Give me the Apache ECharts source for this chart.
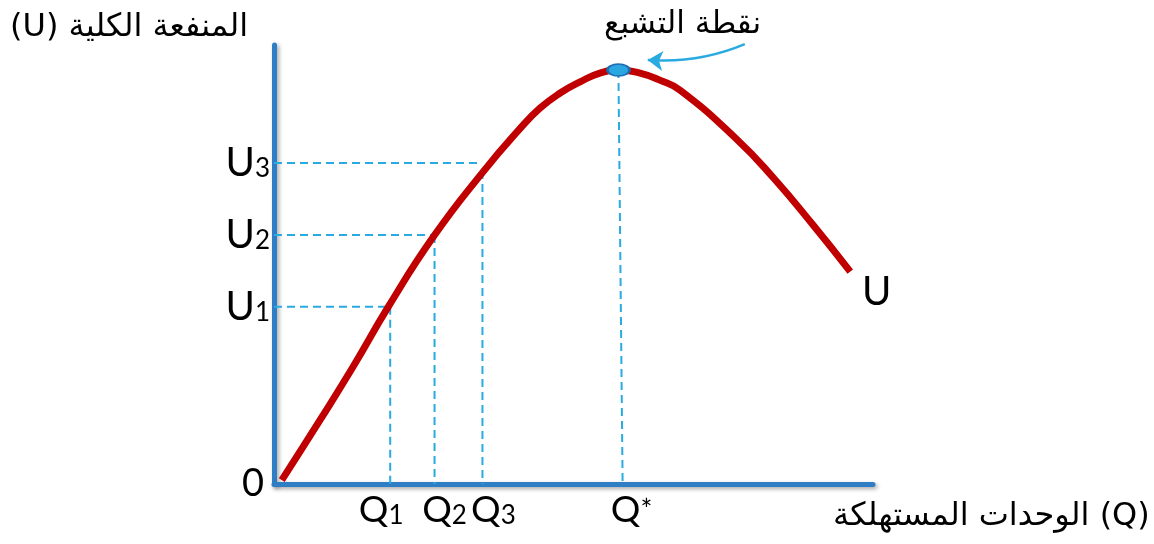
<!DOCTYPE html>
<html>
<head>
<meta charset="utf-8">
<script src="https://cdn.jsdelivr.net/npm/echarts@6/dist/echarts.min.js"></script>
<style>
  html, body { margin: 0; padding: 0; background: #fff; }
</style>
</head>
<body>
<div id="main" style="width:1154px;height:544px;"></div>
<script type="text/javascript">
// منحنى المنفعة الكلية (قيم مقروءة من الرسم، وحدات نسبية 0..100)
var curveQ = [1.3, 7.7, 13.2, 19.1, 26.6, 34.9, 41.1, 44.4, 47.7, 51.1, 54.4, 57.5, 61.1, 64.4, 67.8, 77.2, 83.4, 90.0, 96.2];
var curveU = [0.9, 14.6, 26.7, 40.4, 56.3, 71.1, 81.0, 85.6, 89.0, 91.6, 93.6, 94.3, 93.6, 92.0, 89.7, 78.6, 69.7, 59.0, 48.4];

// مستويات U1..U3 وكمياتها Q1..Q3
var levelNames = ['1', '2', '3'];
var levelQ = [19.4, 26.8, 34.8];
var levelU = [40.4, 56.7, 73.1];
var levelQEnd = [19.4, 26.8, 34.3];

// نقطة التشبع
var satQ = 57.5;
var satU = 94.3;
var satQBottom = 58.2;

// السهم
var arrowFrom = [78.6, 100.2];
var arrowTo = [62.4, 96.6];

var ARABIC = '"DejaVu Sans", "Noto Sans", sans-serif';
var LATIN = 'Lato, "Open Sans", sans-serif';
var dashColor = '#29ABE2';

var myChart = echarts.init(document.getElementById('main'));

var curveData = [];
for (var i = 0; i < curveQ.length; i++) {
    curveData.push([curveQ[i], curveU[i]]);
}

var series = [];
// الخطوط المتقطعة
for (var k = 0; k < levelQ.length; k++) {
    series.push({
        type: 'line',
        data: [[0, levelU[k]], [levelQEnd[k], levelU[k]]],
        symbol: 'none',
        silent: true,
        lineStyle: { color: dashColor, width: 2, type: [8, 5] },
        z: 2
    });
    series.push({
        type: 'line',
        data: [[levelQ[k], levelU[k] - (k == 2 ? 1.8 : 0)], [levelQ[k], 0]],
        symbol: 'none',
        silent: true,
        lineStyle: { color: dashColor, width: 2, type: [8, 5] },
        z: 2
    });
}
series.push({
    type: 'line',
    data: [[satQ, satU], [satQBottom, 0]],
    symbol: 'none',
    silent: true,
    lineStyle: { color: dashColor, width: 2, type: [8, 5] },
    z: 2
});
// المنحنى
series.push({
    type: 'line',
    data: curveData,
    smooth: 0.5,
    symbol: 'none',
    lineStyle: { color: '#C00000', width: 7 },
    z: 3
});
// نقطة التشبع
series.push({
    type: 'scatter',
    data: [[satQ, satU]],
    symbol: 'circle',
    symbolSize: [22, 12],
    itemStyle: { color: '#2AA7E1', borderColor: '#1F6DB5', borderWidth: 2, opacity: 1 },
    z: 5
});
// السهم
series.push({
    type: 'lines',
    coordinateSystem: 'cartesian2d',
    clip: false,
    symbol: ['none', 'arrow'],
    symbolSize: 15,
    lineStyle: { color: dashColor, width: 2.5, curveness: 0.12, opacity: 1 },
    data: [{ coords: [arrowFrom, arrowTo] }],
    z: 5
});

// تسميات Q أسفل المحور
var qValues = levelQ.concat([satQBottom]);
var qTexts = ['{a|Q}{b|1}', '{a|Q}{b|2}', '{a|Q}{b|3}', '{a|Q}{c|*}'];
var qOffsets = [-9, 10, 11, 9];
var qData = [];
for (var m = 0; m < qValues.length; m++) {
    qData.push({
        value: [qValues[m], 0],
        label: { formatter: qTexts[m], offset: [qOffsets[m], 0] }
    });
}
series.push({
    type: 'scatter',
    data: qData,
    symbolSize: 0,
    silent: true,
    itemStyle: { opacity: 1 },
    label: {
        show: true,
        position: 'bottom',
        distance: 8,
        color: '#000',
        rich: {
            a: { fontFamily: LATIN, fontSize: 37, color: '#000' },
            b: { fontFamily: LATIN, fontSize: 26, color: '#000', padding: [10, 0, 0, 0] },
            c: { fontFamily: LATIN, fontSize: 28, color: '#000' }
        }
    },
    z: 6
});

function uLabel(v) {
    for (var j = 0; j < levelU.length; j++) {
        if (Math.abs(v - levelU[j]) < 0.01) return '{a|U}{b|' + levelNames[j] + '}';
    }
    return '{z|0}';
}

var option = {
    animation: false,
    backgroundColor: '#ffffff',
    grid: { left: 274, top: 45, right: 281, bottom: 60 },
    xAxis: {
        type: 'value',
        min: 0,
        max: 100,
        splitLine: { show: false },
        axisTick: { show: false },
        axisLabel: { show: false },
        axisLine: {
            onZero: false,
            lineStyle: { color: '#2E7EC6', width: 5, shadowColor: 'rgba(0,0,0,0.35)', shadowBlur: 4, shadowOffsetX: 2, shadowOffsetY: 2 }
        }
    },
    yAxis: {
        type: 'value',
        min: 0,
        max: 100,
        splitLine: { show: false },
        axisTick: { show: false },
        axisLine: {
            onZero: false,
            lineStyle: { color: '#2E7EC6', width: 5, shadowColor: 'rgba(0,0,0,0.35)', shadowBlur: 4, shadowOffsetX: 2, shadowOffsetY: 2 }
        },
        axisLabel: {
            customValues: [0].concat(levelU),
            formatter: uLabel,
            margin: 4,
            showMinLabel: true,
            showMaxLabel: true,
            rich: {
                a: { fontFamily: LATIN, fontSize: 40, color: '#000' },
                b: { fontFamily: LATIN, fontSize: 26, color: '#000', padding: [12, 0, 0, 0] },
                z: { fontFamily: LATIN, fontSize: 38, color: '#000', padding: [0, 6, 0, 0] }
            }
        }
    },
    graphic: [
        {
            type: 'text', left: 10, top: 12,
            style: { text: '(U) المنفعة الكلية', font: '32px ' + ARABIC, fill: '#000' }
        },
        {
            type: 'text', left: 604, top: 9,
            style: { text: 'نقطة التشبع', font: '31px ' + ARABIC, fill: '#000' }
        },
        {
            type: 'text', left: 862, top: 272,
            style: { text: 'U', font: '40px ' + LATIN, fill: '#000' }
        },
        {
            type: 'text', left: 833, top: 501,
            style: { text: 'الوحدات المستهلكة (Q)', font: '32px ' + ARABIC, fill: '#000' }
        }
    ],
    series: series
};

myChart.setOption(option);
</script>
</body>
</html>
